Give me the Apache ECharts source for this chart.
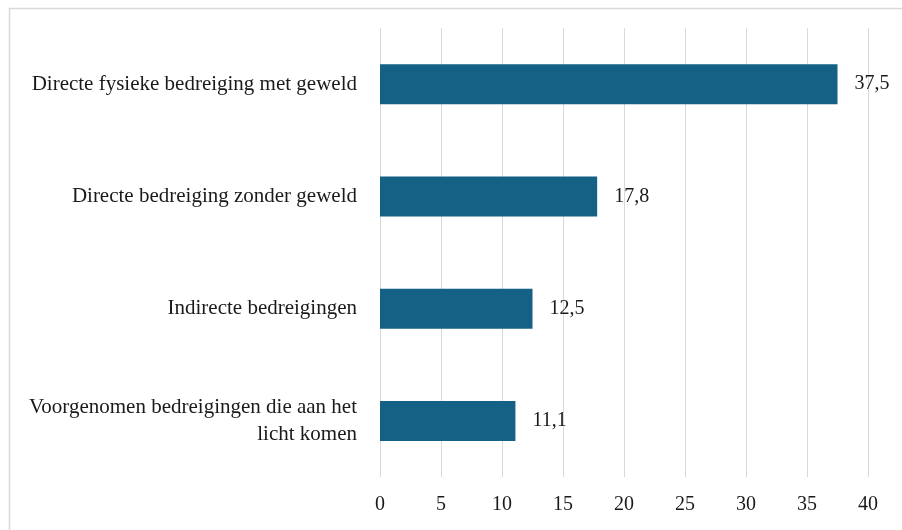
<!DOCTYPE html>
<html><head><meta charset="utf-8">
<script src="https://cdn.jsdelivr.net/npm/echarts@6/dist/echarts.min.js"></script>
<style>html,body{margin:0;padding:0;background:#fff}#c{width:902px;height:530px}</style>
</head><body><div id="c"></div>
<script>
const categories = [
  "Directe fysieke bedreiging met geweld",
  "Directe bedreiging zonder geweld",
  "Indirecte bedreigingen",
  "Voorgenomen bedreigingen die aan het\nlicht komen"
];
const values = [37.5, 17.8, 12.5, 11.1];
const xTicks = [0, 5, 10, 15, 20, 25, 30, 35, 40];

const font = "'Liberation Serif', 'DejaVu Serif', serif";
const chart = echarts.init(document.getElementById('c'));
chart.setOption({
  animation: false,
  textStyle: { fontFamily: font },
  graphic: [{
    type: 'rect', left: 7, top: 6,
    shape: { width: 920, height: 560 },
    style: { fill: 'none', stroke: '#d9d9d9', lineWidth: 1.5 }
  }],
  grid: { left: 380, right: 34, top: 28, bottom: 53, containLabel: false },
  xAxis: {
    type: 'value', min: xTicks[0], max: xTicks[xTicks.length - 1], interval: 5,
    axisLine: { show: false }, axisTick: { show: false },
    splitLine: { lineStyle: { color: '#d9d9d9', width: 1 } },
    axisLabel: { color: '#1a1a1a', fontSize: 20, fontFamily: font, margin: 18 }
  },
  yAxis: {
    type: 'category', inverse: true, data: categories,
    axisLine: { show: false }, axisTick: { show: false },
    axisLabel: { color: '#1a1a1a', fontSize: 21, fontFamily: font, margin: 23, align: 'right', lineHeight: 27 }
  },
  series: [{
    type: 'bar', data: values, barWidth: 40,
    itemStyle: { color: '#156185' },
    label: {
      show: true, position: 'right', distance: 17, color: '#1a1a1a', fontSize: 20, fontFamily: font,
      formatter: p => String(p.value).replace('.', ',')
    }
  }]
});
</script></body></html>
